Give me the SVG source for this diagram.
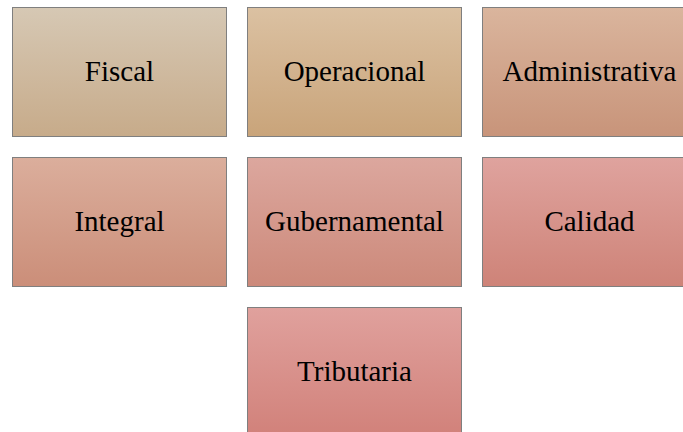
<svg xmlns="http://www.w3.org/2000/svg" width="683" height="432" viewBox="0 0 683 432">
<defs>
<linearGradient id="g1" x1="0" y1="0" x2="0" y2="1"><stop offset="0" stop-color="#d6c8b4"/><stop offset="1" stop-color="#c7ab8a"/></linearGradient>
<linearGradient id="g2" x1="0" y1="0" x2="0" y2="1"><stop offset="0" stop-color="#dbc1a2"/><stop offset="1" stop-color="#c9a47a"/></linearGradient>
<linearGradient id="g3" x1="0" y1="0" x2="0" y2="1"><stop offset="0" stop-color="#dab59d"/><stop offset="1" stop-color="#c8947a"/></linearGradient>
<linearGradient id="g4" x1="0" y1="0" x2="0" y2="1"><stop offset="0" stop-color="#dbae9c"/><stop offset="1" stop-color="#cb8e79"/></linearGradient>
<linearGradient id="g5" x1="0" y1="0" x2="0" y2="1"><stop offset="0" stop-color="#dca79e"/><stop offset="1" stop-color="#cc897a"/></linearGradient>
<linearGradient id="g6" x1="0" y1="0" x2="0" y2="1"><stop offset="0" stop-color="#dfa39e"/><stop offset="1" stop-color="#ce8378"/></linearGradient>
<linearGradient id="g7" x1="0" y1="0" x2="0" y2="1"><stop offset="0" stop-color="#e0a19d"/><stop offset="1" stop-color="#d1817a"/></linearGradient>
</defs>
<style>
.box{stroke:#7f7f7f;stroke-width:1}
text{font-family:"Liberation Serif","Times New Roman",serif;font-size:29px;fill:#000;text-anchor:middle}
</style>
<rect width="683" height="432" fill="#ffffff"/>
<g id="fiscal"><rect class="box" x="12.5" y="7.5" width="214" height="129" fill="url(#g1)"/><text x="119.5" y="81">Fiscal</text></g>
<g id="operacional"><rect class="box" x="247.5" y="7.5" width="214" height="129" fill="url(#g2)"/><text x="354.5" y="81">Operacional</text></g>
<g id="administrativa"><rect class="box" x="482.5" y="7.5" width="214" height="129" fill="url(#g3)"/><text x="589.5" y="81">Administrativa</text></g>
<g id="integral"><rect class="box" x="12.5" y="157.5" width="214" height="129" fill="url(#g4)"/><text x="119.5" y="231">Integral</text></g>
<g id="gubernamental"><rect class="box" x="247.5" y="157.5" width="214" height="129" fill="url(#g5)"/><text x="354.5" y="231">Gubernamental</text></g>
<g id="calidad"><rect class="box" x="482.5" y="157.5" width="214" height="129" fill="url(#g6)"/><text x="589.5" y="231">Calidad</text></g>
<g id="tributaria"><rect class="box" x="247.5" y="307.5" width="214" height="129" fill="url(#g7)"/><text x="354.5" y="381">Tributaria</text></g>
<g id="connectors"/>
</svg>
